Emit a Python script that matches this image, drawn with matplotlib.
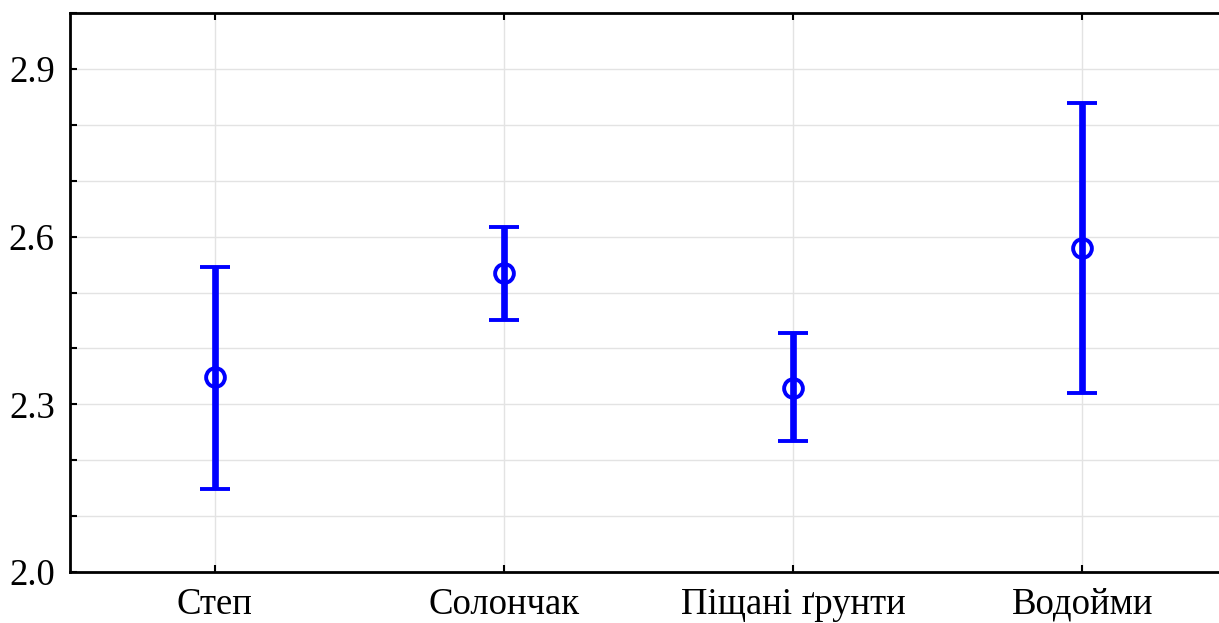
import matplotlib
matplotlib.use("Agg")
import matplotlib.pyplot as plt
import numpy as np

categories = ["Степ", "Солончак", "Піщані ґрунти", "Водойми"]
means = [2.348, 2.534, 2.330, 2.580]
upper = [2.546, 2.617, 2.427, 2.839]
lower = [2.148, 2.450, 2.234, 2.320]

plt.rcParams['font.family'] = ['Liberation Serif', 'DejaVu Serif']

W, H = 1219, 623
fig = plt.figure(figsize=(W/100, H/100), dpi=100)
left, right, top, bottom = 70, 1227, 13, 572
ax = fig.add_axes([left/W, 1-bottom/H, (right-left)/W, (bottom-top)/H])

x = np.arange(len(categories))
m = np.array(means)
yerr = np.vstack([m - np.array(lower), np.array(upper) - m])
ax.errorbar(x, m, yerr=yerr, fmt='o', color='#0000ff', ecolor='#0000ff',
            elinewidth=4.8, capsize=10.5, capthick=4.0,
            markersize=13.5, markerfacecolor='none', markeredgewidth=2.8,
            markeredgecolor='#0000ff', zorder=3)

ax.set_xlim(-0.5, 3.5)
ax.set_ylim(2.0, 3.0)
ax.set_yticks([2.0, 2.3, 2.6, 2.9])
ax.set_yticks(np.arange(2.0, 3.0001, 0.1), minor=True)
ax.set_xticks(x)
ax.set_xticklabels(categories)

ax.grid(True, which='both', color='#e3e3e3', linewidth=1, zorder=0)
ax.set_axisbelow(True)
ax.tick_params(axis='both', which='both', direction='in', length=5, width=1.5,
               labelsize=26.5, colors='black')
ax.tick_params(axis='x', top=True, pad=11)
ax.tick_params(axis='y', pad=11)
for s in ['left', 'bottom', 'top', 'right']:
    ax.spines[s].set_linewidth(2)
    ax.spines[s].set_color('black')

fig.savefig("out.png", dpi=100)
